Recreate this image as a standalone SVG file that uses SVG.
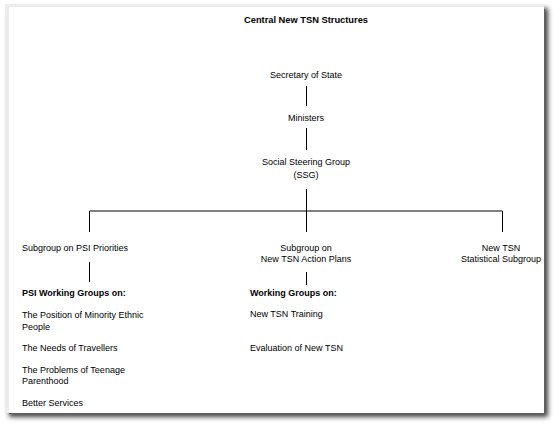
<svg xmlns="http://www.w3.org/2000/svg" width="560" height="426" viewBox="0 0 560 426">
<defs>
<filter id="sh" x="-5%" y="-5%" width="115%" height="115%">
<feGaussianBlur in="SourceAlpha" stdDeviation="2.5"/>
<feOffset dx="4" dy="4" result="b"/>
<feComponentTransfer><feFuncA type="linear" slope="0.75"/></feComponentTransfer>
<feMerge><feMergeNode/><feMergeNode in="SourceGraphic"/></feMerge>
</filter>
<style>
text{font-family:"Liberation Sans",Arial,sans-serif;font-size:9px;fill:#000}
.b{font-weight:bold}
.t{font-size:9.3px}
.m{text-anchor:middle}
.ln{stroke:#000;stroke-width:1;fill:none}
</style>
</defs>
<rect width="560" height="426" fill="#fff"/>
<rect x="5" y="4" width="539" height="409" fill="#ececec" filter="url(#sh)"/>
<rect x="9" y="7" width="535" height="406" fill="#fff"/>
<line x1="544.5" y1="9" x2="544.5" y2="413.5" stroke="#606060"/>
<line x1="9" y1="413.5" x2="544.5" y2="413.5" stroke="#606060"/>
<text class="b m t" x="306" y="23">Central New TSN Structures</text>
<g id="connectors" class="ln">
<path class="ln" d="M306.5 86V106M306.5 128V150M306.5 189V232M89.5 211H502.5M89.5 211V232M502.5 211V232M89.5 262V282M306.5 272V285"/>
</g>
<g id="n-sos"><text class="m" x="306" y="78">Secretary of State</text></g>
<g id="n-min"><text class="m" x="306" y="121">Ministers</text></g>
<g id="n-ssg"><text class="m" x="306" y="165">Social Steering Group</text><text class="m" x="306" y="178">(SSG)</text></g>
<g id="n-psi"><text x="22" y="251">Subgroup on PSI Priorities</text></g>
<g id="n-ap"><text class="m" x="306" y="251">Subgroup on</text><text class="m" x="306" y="262">New TSN Action Plans</text></g>
<g id="n-stat"><text class="m" x="501" y="251">New TSN</text><text class="m" x="501" y="262">Statistical Subgroup</text></g>
<g id="n-psiwg">
<text class="b" x="22" y="296">PSI Working Groups on:</text>
<text x="22" y="318">The Position of Minority Ethnic</text>
<text x="22" y="330">People</text>
<text x="22" y="351">The Needs of Travellers</text>
<text x="22" y="373">The Problems of Teenage</text>
<text x="22" y="384">Parenthood</text>
<text x="22" y="406">Better Services</text>
</g>
<g id="n-wg">
<text class="b" x="250" y="296">Working Groups on:</text>
<text x="250" y="317">New TSN Training</text>
<text x="250" y="351">Evaluation of New TSN</text>
</g>
</svg>
